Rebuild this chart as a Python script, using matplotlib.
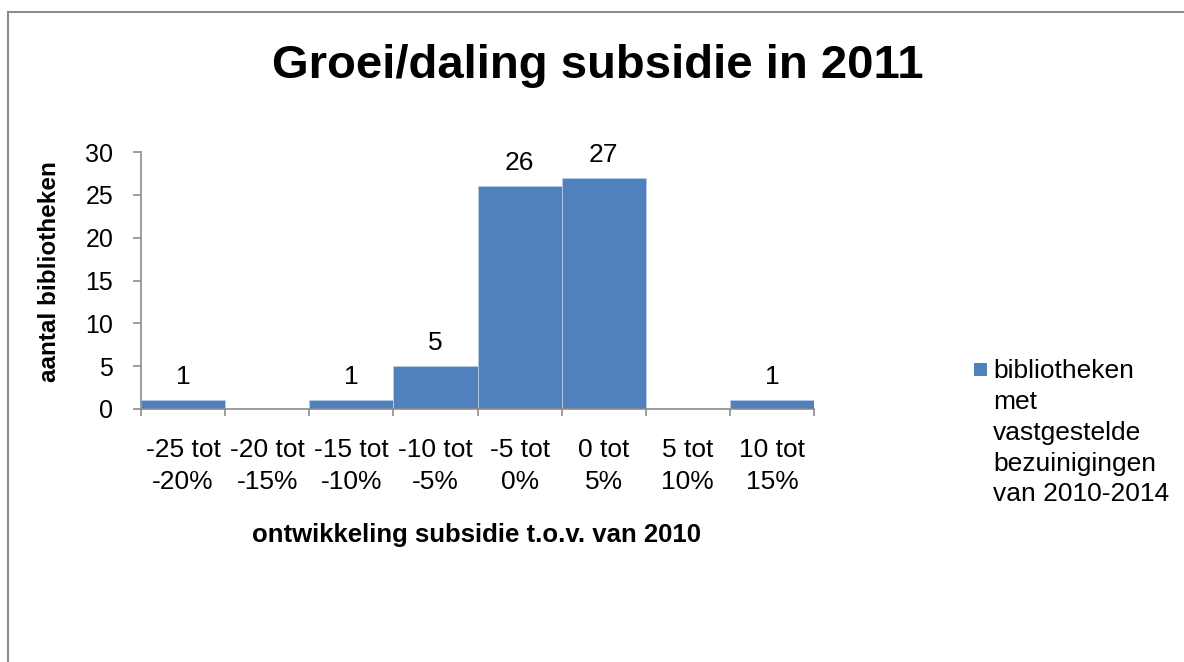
import matplotlib
matplotlib.use("Agg")
import matplotlib.pyplot as plt
from matplotlib.patches import Rectangle
from matplotlib.legend_handler import HandlerPatch
import numpy as np

plt.rcParams['font.family'] = ['Liberation Sans', 'DejaVu Sans']

categories = ["-25 tot\n-20%", "-20 tot\n-15%", "-15 tot\n-10%", "-10 tot\n-5%",
              "-5 tot\n0%", "0 tot\n5%", "5 tot\n10%", "10 tot\n15%"]
values = [1, 0, 1, 5, 26, 27, 0, 1]
yticks = [0, 5, 10, 15, 20, 25, 30]
title = "Groei/daling subsidie in 2011"
xlabel = "ontwikkeling subsidie t.o.v. van 2010"
ylabel = "aantal bibliotheken"
legend_label = "bibliotheken\nmet\nvastgestelde\nbezuinigingen\nvan 2010-2014"

W, H = 1184, 662
fig = plt.figure(figsize=(W/100, H/100), dpi=100)

# outer border (chart area frame)
fig.add_artist(plt.Line2D([8/W, 8/W], [0, 1-12/H], color='#8c8c8c', lw=1.5, transform=fig.transFigure))
fig.add_artist(plt.Line2D([8/W, 1], [1-12/H, 1-12/H], color='#8c8c8c', lw=1.5, transform=fig.transFigure))

ax = fig.add_axes([141/W, 1-409/H, (814-141)/W, (409-152)/H])
x = np.arange(len(values))
bars = ax.bar(x, values, width=1.0, color='#4F81BD', edgecolor='#b9cde5', linewidth=0.6)
ax.set_xlim(-0.5, len(values)-0.5)
ax.set_ylim(0, 30)
ax.set_yticks(yticks)
ax.set_yticklabels([str(t) for t in yticks], fontsize=18)
ax.set_xticks(np.arange(len(values)+1) - 0.5)
ax.set_xticklabels([])
for i, c in enumerate(categories):
    ax.text(i, -0.113, c, transform=ax.get_xaxis_transform(), ha='center', va='top',
            fontsize=19, linespacing=1.43)
ax.tick_params(axis='y', length=6, width=1.2, color='#8c8c8c', pad=14)
ax.tick_params(axis='x', length=5, width=1.2, color='#8c8c8c')
for s in ['top', 'right']:
    ax.spines[s].set_visible(False)
for s in ['left', 'bottom']:
    ax.spines[s].set_color('#8c8c8c')
    ax.spines[s].set_linewidth(1.2)

for i, v in enumerate(values):
    if v > 0:
        ax.annotate(str(v), (i, v), xytext=(0, 8), textcoords='offset points',
                    ha='center', va='bottom', fontsize=19)

fig.text(598/W, 1-78/H, title, ha='center', va='baseline', fontsize=34, fontweight='bold')
fig.text(477/W, 1-535/H, xlabel, ha='center', va='center', fontsize=18.5, fontweight='bold')
fig.text(50/W, 1-272/H, ylabel, ha='center', va='center', rotation=90, fontsize=17.5, fontweight='bold')


class TopHandler(HandlerPatch):
    def __init__(self, dy, **kw):
        super().__init__(**kw)
        self.dy = dy

    def create_artists(self, legend, orig_handle, xdescent, ydescent, width, height, fontsize, trans):
        p = Rectangle((-xdescent, -ydescent + self.dy), width, width)
        p.set_facecolor(orig_handle.get_facecolor())
        p.set_edgecolor('none')
        p.set_transform(trans)
        return [p]


leg = ax.legend(handles=[bars.patches[0]], labels=[legend_label], loc='upper left',
                bbox_to_anchor=(974/W, 1-359/H),
                bbox_transform=fig.transFigure, frameon=False, fontsize=19,
                handlelength=0.49, handleheight=0.49, handletextpad=0.23,
                borderaxespad=0, borderpad=0,
                handler_map={Rectangle: TopHandler(dy=46)})
for t in leg.get_texts():
    t.set_linespacing(1.36)

fig.savefig("out.png", dpi=100)
